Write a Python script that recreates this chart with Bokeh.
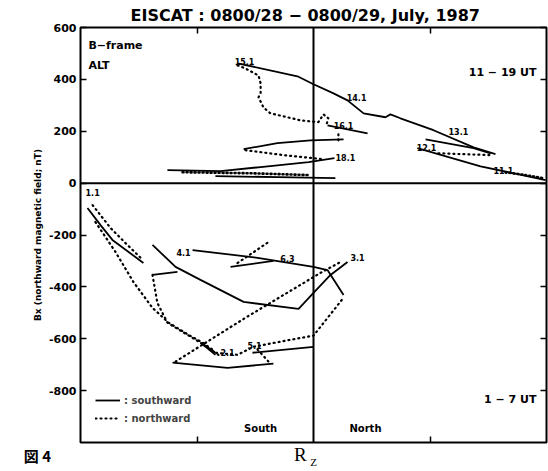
import math
from bokeh.plotting import figure
from bokeh.models import (Span, Label, FixedTicker, LinearAxis, Legend, LegendItem,
                          ColumnDataSource, Range1d)
from bokeh.core.properties import value
from bokeh.embed import file_html
from bokeh.resources import INLINE

FONT = "DejaVu Sans"

# ---------------- data (Rz arbitrary units, Bx in nT) ----------------
y_ticks = [600, 400, 200, 0, -200, -400, -600, -800]
y_tick_labels = ["600", "400", "200", "0", "-200", "-400", "-600", "-800"]
x_ticks = [-0.5, 0.5]

# 11 - 19 UT (upper half)
u_a_sol_x = [-0.326, -0.069, 0.0, 0.086, 0.146, 0.215, 0.309, 0.330, 0.373, 0.515, 0.687, 0.781]
u_a_sol_y = [462, 412, 381, 346, 319, 269, 254, 265, 250, 204, 138, 112]
u_b_dot_x = [-0.326, -0.292, -0.236, -0.227, -0.227, -0.236, -0.215, -0.185, -0.112, -0.056, -0.013, 0.021, 0.043, 0.064, 0.056]
u_b_dot_y = [454, 442, 415, 385, 346, 331, 292, 269, 254, 242, 238, 235, 265, 250, 227]
u_c_sol_x = [0.060, 0.232]
u_c_sol_y = [223, 192]
u_c_dot_x = [0.107, 0.107]
u_c_dot_y = [188, 165]
u_d_sol_x = [-0.300, -0.155, -0.013, 0.129]
u_d_sol_y = [131, 154, 165, 169]
u_d_dot_x = [-0.292, -0.129, 0.0, 0.039]
u_d_dot_y = [127, 108, 96, 92]
u_e_sol_x = [-0.627, -0.399, -0.227, -0.021, 0.090]
u_e_sol_y = [50, 46, 62, 81, 96]
u_f_dot_x = [-0.562, -0.270, -0.013]
u_f_dot_y = [42, 38, 31]
u_g_sol_x = [-0.421, -0.150, 0.094]
u_g_sol_y = [27, 23, 19]
u_h_sol_x = [0.481, 0.687, 0.760]
u_h_sol_y = [169, 135, 115]
u_h_dot_x = [0.536, 0.760]
u_h_dot_y = [115, 108]
u_i_sol_x = [0.446, 0.717, 0.996]
u_i_sol_y = [135, 65, 12]
u_i_dot_x = [0.824, 0.910, 0.987]
u_i_dot_y = [42, 31, 19]

# 1 - 7 UT (lower half)
l_a_sol_x = [-0.970, -0.914, -0.863, -0.730]
l_a_sol_y = [-96, -162, -219, -308]
l_a_dot_x = [-0.948, -0.871, -0.807, -0.742]
l_a_dot_y = [-85, -173, -231, -288]
l_b_dot_x = [-0.936, -0.850, -0.773, -0.691, -0.622, -0.536, -0.476, -0.433]
l_b_dot_y = [-150, -265, -381, -481, -538, -585, -615, -642]
l_c_dot_x = [-0.691, -0.670, -0.627, -0.528, -0.485, -0.408]
l_c_dot_y = [-354, -462, -538, -592, -615, -662]
l_c_sol_x = [-0.691, -0.584]
l_c_sol_y = [-354, -342]
l_d_sol_x = [-0.691, -0.592, -0.485, -0.300, -0.064, 0.0, 0.073, 0.146]
l_d_sol_y = [-238, -323, -373, -458, -485, -423, -354, -304]
l_e_sol_x = [-0.519, -0.240, 0.0, 0.060, 0.129]
l_e_sol_y = [-258, -288, -323, -335, -431]
l_f_sol_x = [-0.356, -0.172]
l_f_sol_y = [-323, -300]
l_f_dot_x = [-0.326, -0.193]
l_f_dot_y = [-308, -227]
l_g_dot_x = [-0.592, -0.292, 0.030, 0.116]
l_g_dot_y = [-688, -519, -346, -304]
l_h_sol_x = [-0.605, -0.369, -0.172]
l_h_sol_y = [-692, -712, -696]
l_i_dot_x = [-0.472, -0.421, -0.326, -0.258, -0.099, 0.0, 0.129]
l_i_dot_y = [-623, -654, -662, -631, -604, -588, -442]
l_j_sol_x = [-0.262, 0.0]
l_j_sol_y = [-654, -631]
l_j_dot_x = [-0.240, -0.193]
l_j_dot_y = [-642, -688]
l_k_sol_x = [-0.485, -0.421]
l_k_sol_y = [-615, -662]

# time labels (UT) along the traces
tl_text = ["15.1", "14.1", "13.1", "12.1", "11.1", "16.1", "18.1",
           "1.1", "4.1", "6.3", "3.1", "2.1", "5.1"]
tl_x = [-0.296, 0.185, 0.622, 0.485, 0.815, 0.129, 0.137,
        -0.948, -0.558, -0.112, 0.189, -0.369, -0.253]
tl_y = [469, 331, 200, 138, 50, 223, 100,
        -38, -269, -292, -288, -654, -627]

solid_traces = [
    (u_a_sol_x, u_a_sol_y), (u_c_sol_x, u_c_sol_y), (u_d_sol_x, u_d_sol_y),
    (u_e_sol_x, u_e_sol_y), (u_g_sol_x, u_g_sol_y), (u_h_sol_x, u_h_sol_y),
    (u_i_sol_x, u_i_sol_y),
    (l_a_sol_x, l_a_sol_y), (l_c_sol_x, l_c_sol_y), (l_d_sol_x, l_d_sol_y),
    (l_e_sol_x, l_e_sol_y), (l_f_sol_x, l_f_sol_y), (l_h_sol_x, l_h_sol_y),
    (l_j_sol_x, l_j_sol_y), (l_k_sol_x, l_k_sol_y),
]
dotted_traces = [
    (u_b_dot_x, u_b_dot_y), (u_c_dot_x, u_c_dot_y), (u_d_dot_x, u_d_dot_y),
    (u_h_dot_x, u_h_dot_y),
    (l_a_dot_x, l_a_dot_y), (l_b_dot_x, l_b_dot_y), (l_c_dot_x, l_c_dot_y),
    (l_f_dot_x, l_f_dot_y), (l_g_dot_x, l_g_dot_y), (l_i_dot_x, l_i_dot_y),
    (l_j_dot_x, l_j_dot_y),
]
dense_dotted_traces = [(u_f_dot_x, u_f_dot_y), (u_i_dot_x, u_i_dot_y)]

# ---------------- figure ----------------
p = figure(width=548, height=471, x_range=Range1d(-1, 1), y_range=Range1d(-1000, 600),
           output_backend="svg", toolbar_location=None,
           min_border_left=80, min_border_right=2, min_border_top=27, min_border_bottom=29,
           title="EISCAT : 0800/28 \u2212 0800/29, July, 1987")
p.background_fill_color = "white"
p.border_fill_color = "white"
p.outline_line_color = "black"
p.outline_line_width = 2
p.grid.visible = False

p.title.align = "left"
p.title.offset = 50
p.title.text_font = FONT
p.title.text_font_style = "bold"
p.title.text_font_size = "16px"
p.title.text_color = "black"
p.title.standoff = 6


def style_axis(ax, ticks, labels=None):
    ax.ticker = FixedTicker(ticks=ticks)
    ax.major_tick_in = 6
    ax.major_tick_out = 0
    ax.minor_tick_in = 0
    ax.minor_tick_out = 0
    ax.axis_line_color = None
    ax.major_tick_line_color = "black"
    ax.major_tick_line_width = 1.5
    if labels is None:
        ax.major_label_text_color = None
        ax.major_label_text_font_size = "1px"
        ax.major_label_standoff = 0
    else:
        ax.major_label_overrides = dict(zip(ticks, labels))
        ax.major_label_text_font = FONT
        ax.major_label_text_font_style = "bold"
        ax.major_label_text_font_size = "11px"
        ax.major_label_text_color = "black"
        ax.major_label_standoff = 4


style_axis(p.yaxis[0], y_ticks, y_tick_labels)
p.yaxis[0].axis_label = "Bx (northward magnetic field; nT)"
p.yaxis[0].axis_label_text_font = FONT
p.yaxis[0].axis_label_text_font_style = "bold"
p.yaxis[0].axis_label_text_font_size = "9px"
p.yaxis[0].axis_label_text_color = "black"
p.yaxis[0].axis_label_standoff = 3

style_axis(p.xaxis[0], x_ticks)
top_ax = LinearAxis()
style_axis(top_ax, x_ticks)
p.add_layout(top_ax, "above")
right_ax = LinearAxis()
style_axis(right_ax, y_ticks)
p.add_layout(right_ax, "right")

p.add_layout(Span(location=0, dimension="height", line_color="black", line_width=2))
p.add_layout(Span(location=0, dimension="width", line_color="black", line_width=2))

sol_r = None
dot_r = None
for xs, ys in solid_traces:
    r = p.line(xs, ys, line_color="black", line_width=1.8)
    sol_r = sol_r or r
for xs, ys in dotted_traces:
    r = p.line(xs, ys, line_color="black", line_width=2.2, line_dash="1 4", line_cap="round")
    dot_r = dot_r or r
for xs, ys in dense_dotted_traces:
    p.line(xs, ys, line_color="black", line_width=2.6, line_dash="1 3", line_cap="round")

src = ColumnDataSource(dict(x=tl_x, y=tl_y, t=tl_text))
p.text(x="x", y="y", text="t", source=src, text_font=value(FONT), text_font_style="bold",
       text_font_size="8px", text_align="center", text_baseline="middle", text_color="black")

legend = Legend(items=[LegendItem(label=": southward", renderers=[sol_r]),
                       LegendItem(label=": northward", renderers=[dot_r])],
                location=(15, 18), orientation="vertical")
legend.label_text_font = FONT
legend.label_text_font_style = "bold"
legend.label_text_font_size = "10px"
legend.glyph_width = 25
legend.glyph_height = 12
legend.label_height = 12
legend.label_standoff = 4
legend.spacing = 6
legend.padding = 0
legend.margin = 0
legend.border_line_color = None
legend.background_fill_alpha = 0
p.add_layout(legend)


def lab(x, y, text, size="11px", align="left", font=FONT, style="bold", place=None):
    lb = Label(x=x, y=y, text=text, text_font=font, text_font_style=style,
               text_font_size=size, text_align=align, text_baseline="middle",
               text_color="black")
    if place is None:
        p.add_layout(lb)
    else:
        p.add_layout(lb, place)


lab(-0.966, 531, "B\u2212frame")
lab(-0.966, 454, "ALT")
lab(0.957, 427, "11 \u2212 19 UT", align="right")
lab(0.957, -835, "1 \u2212 7 UT", align="right")
lab(-0.227, -946, "South", size="10px", align="center")
lab(0.223, -946, "North", size="10px", align="center")
# texts below the frame: hosted by side panels (not clipped), drawn at data positions
lab(-1.185, -1050, "\u56f3 4", size="15px", align="center", font="Noto Sans CJK JP", place="below")
lab(-0.056, -1048, "R", size="19px", align="center", font="Liberation Serif", style="normal", place="left")
lab(0.0, -1076, "Z", size="11px", align="center", font="Liberation Serif", style="normal", place="left")

open("out.html", "w").write(file_html(p, INLINE))
